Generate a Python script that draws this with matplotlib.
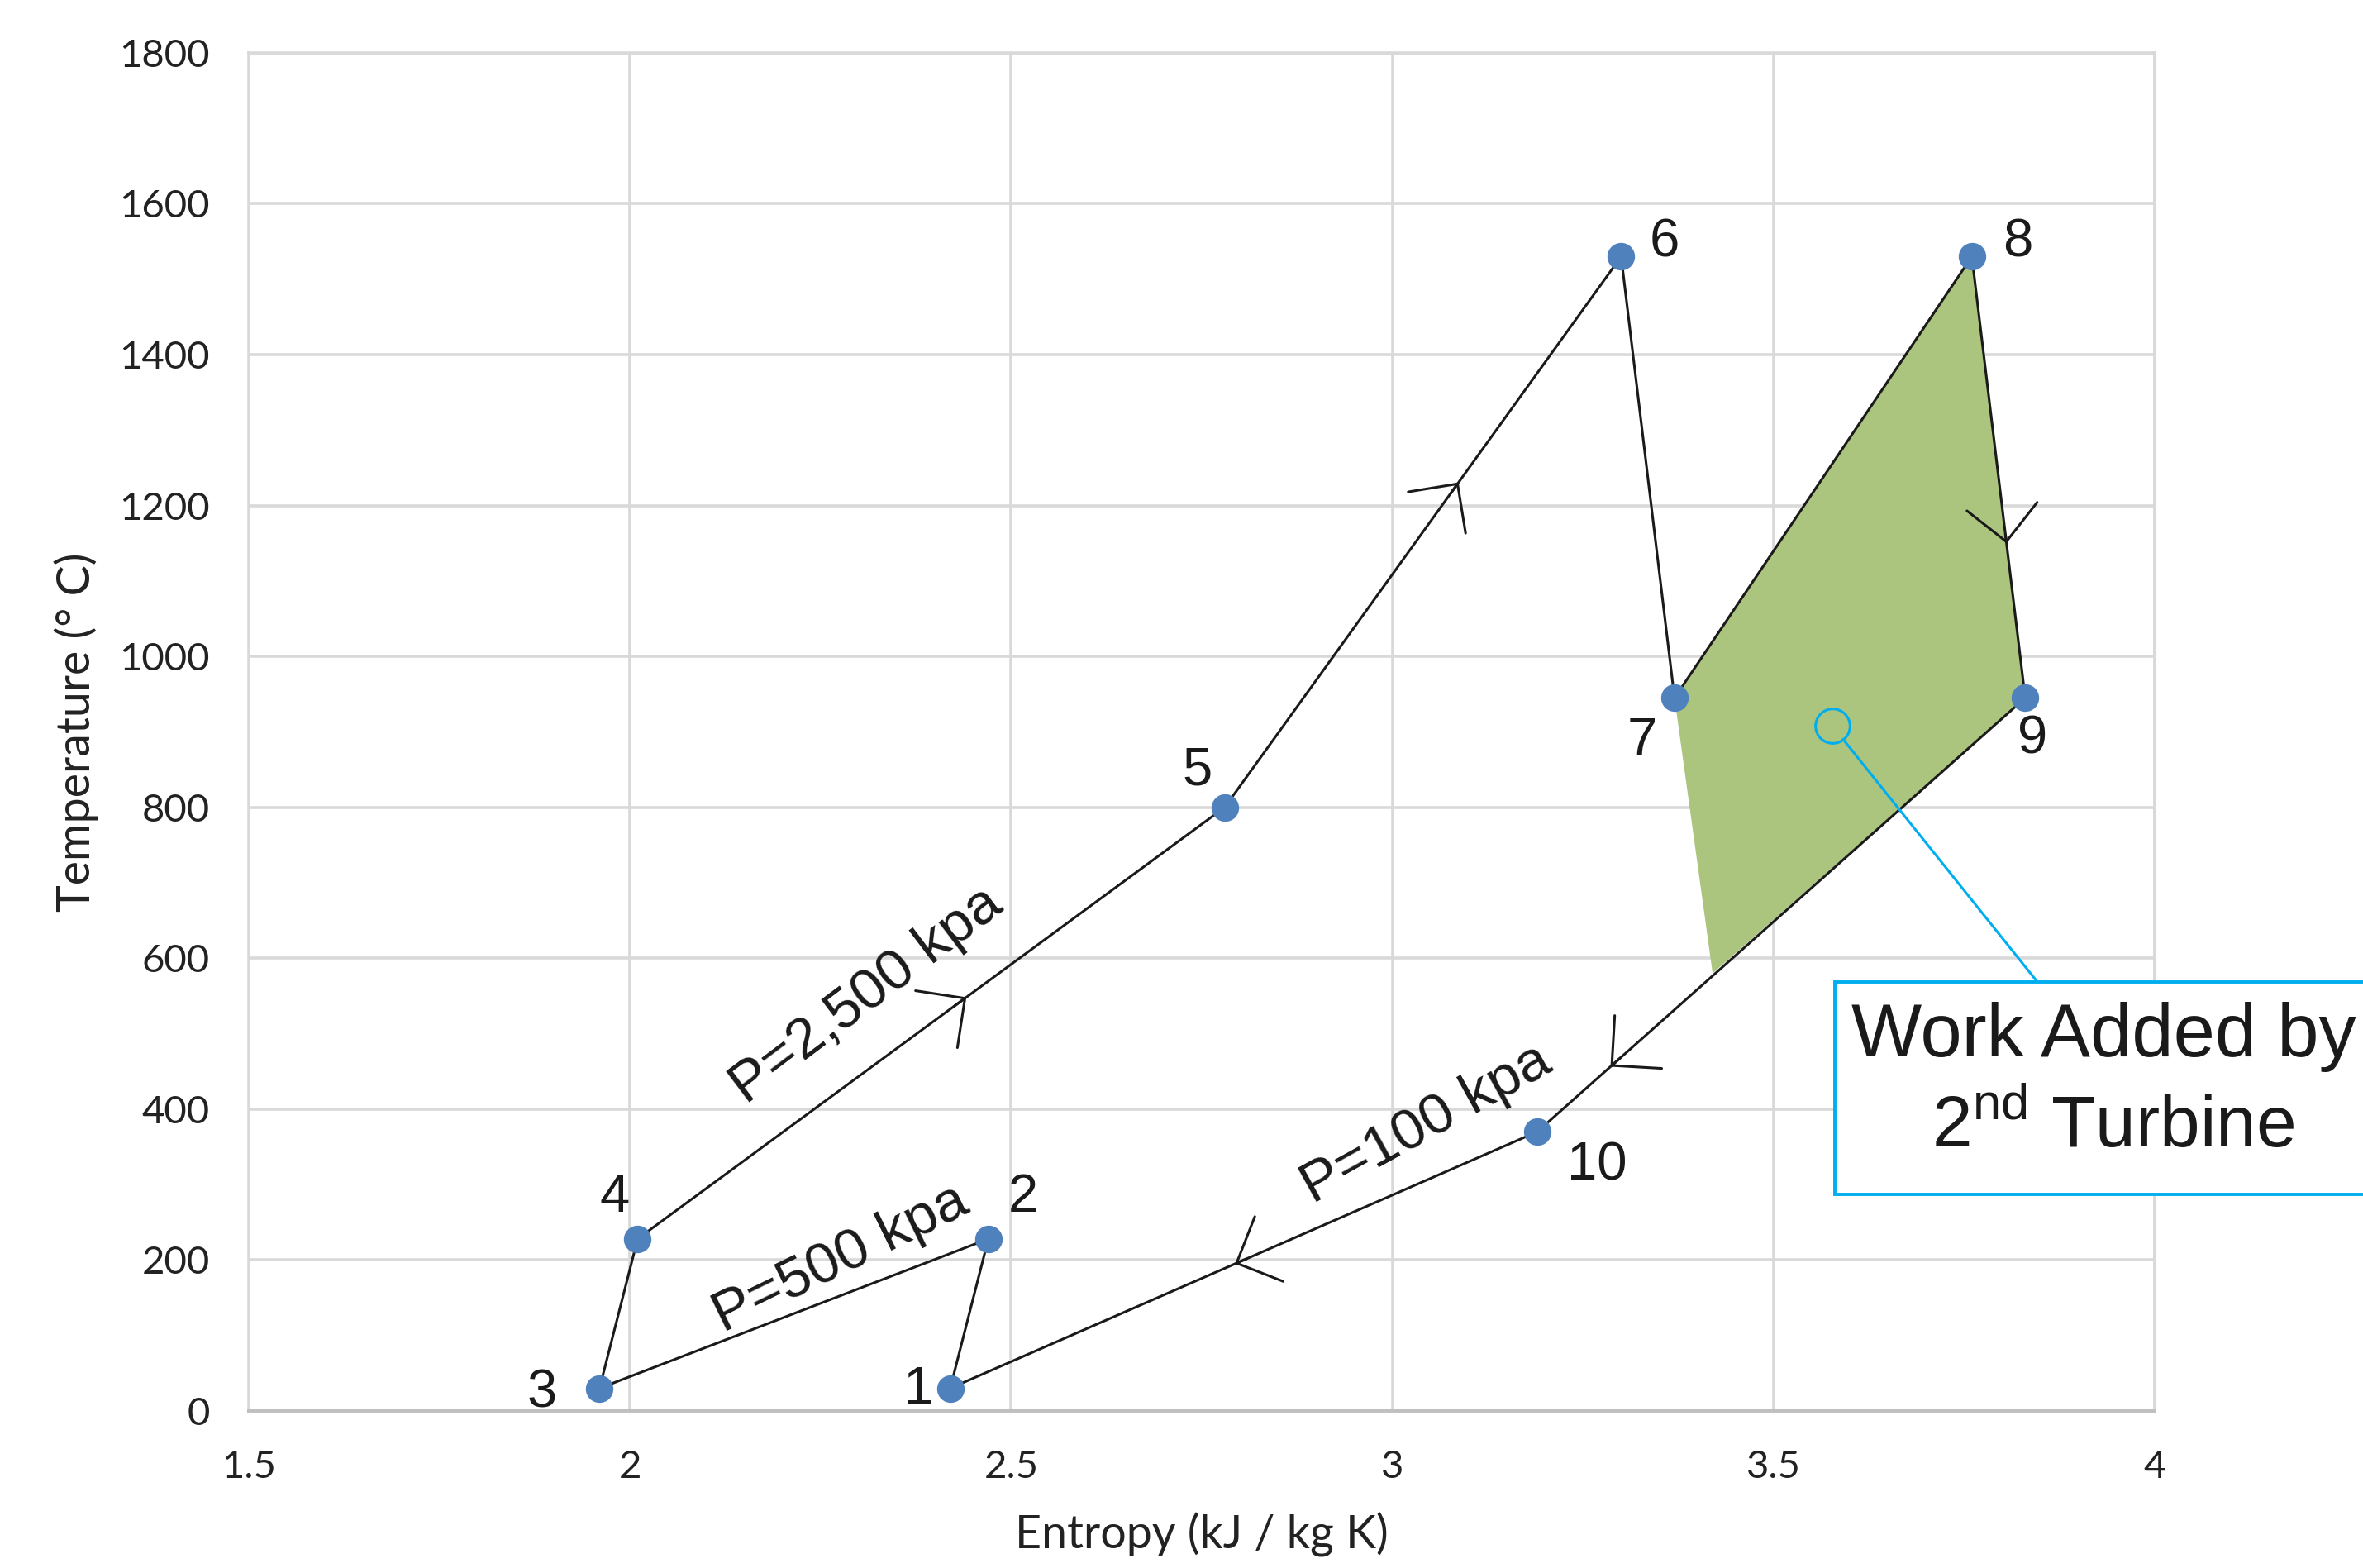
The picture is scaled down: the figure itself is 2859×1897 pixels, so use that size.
import numpy as np
import matplotlib
matplotlib.use("Agg")
import matplotlib.pyplot as plt
from matplotlib.patches import Rectangle

# state points of the cycle (entropy kJ/kg K, temperature C)
point_names = ['1', '2', '3', '4', '5', '6', '7', '8', '9', '10']
entropy = [2.42, 2.47, 1.96, 2.01, 2.78, 3.30, 3.37, 3.76, 3.83, 3.19]
temperature = [30, 228, 30, 228, 800, 1530, 945, 1530, 945, 370]

# label offsets (points) for each state number
label_dx = [-14, 15, -25, -10, -12, 19, -14, 20, 3, 26]
label_dy = [-1, 18, -2, 18, 16, 6, -19, 6, -18, -15]

# shaded area: 7 -> 8 -> 9 -> down the 9-10 line
fill_s = [3.37, 3.76, 3.83, 3.42]
fill_t = [945, 1530, 945, 580]

# direction arrows: (from index, to index, fraction along segment)
arrows = [(3, 4, 0.56), (4, 5, 0.59), (7, 8, 0.65), (8, 9, 0.85), (9, 0, 0.515)]

# pressure line labels: text, s, T, rotation
p_labels = [('P=2,500 kpa', 2.31, 551, 37),
            ('P=500 kpa', 2.277, 202, 26),
            ('P=100 kpa', 3.045, 380, 29)]

x_ticks = [1.5, 2, 2.5, 3, 3.5, 4]
x_tick_labels = ['1.5', '2', '2.5', '3', '3.5', '4']
y_ticks = [0, 200, 400, 600, 800, 1000, 1200, 1400, 1600, 1800]

callout_pt = (3.577, 908)

plt.rcParams['mathtext.fontset'] = 'custom'
plt.rcParams['mathtext.rm'] = 'Liberation Sans'

fig = plt.figure(figsize=(2859 / 200, 1897 / 200), dpi=200)
ax = fig.add_axes([0.1053, 0.1002, 0.8066, 0.8661])

grid_c = '#d9d9d9'
ax.set_xlim(1.5, 4)
ax.set_ylim(0, 1800)
ax.set_xticks(x_ticks)
ax.set_xticklabels(x_tick_labels)
ax.set_yticks(y_ticks)
ax.grid(True, color=grid_c, lw=1.3, zorder=0)
ax.set_axisbelow(True)
for side in ['left', 'top', 'right']:
    ax.spines[side].set_color(grid_c)
    ax.spines[side].set_linewidth(1.3)
ax.spines['bottom'].set_color('#bfbfbf')
ax.spines['bottom'].set_linewidth(1.4)
ax.tick_params(length=0, labelsize=17, labelcolor='#222222', pad=17)
for lab in ax.get_xticklabels() + ax.get_yticklabels():
    lab.set_family('Lato')

ax.set_xlabel('Entropy (kJ / kg K)', fontsize=20, family='Lato', labelpad=12, color='#222222')
ax.set_ylabel('Temperature (° C)', fontsize=20, family='Lato', labelpad=9, color='#222222')

# shaded work region
ax.fill(fill_s, fill_t, color='#abc47e', lw=0, zorder=1)

# cycle lines
s_loop = entropy + [entropy[0]]
t_loop = temperature + [temperature[0]]
ax.plot(s_loop, t_loop, color='#1a1a1a', lw=1.1, zorder=2)

# markers
ax.plot(entropy, temperature, 'o', color='#4f81bd', ms=12, mew=0, zorder=3)

for name, s, t, dx, dy in zip(point_names, entropy, temperature, label_dx, label_dy):
    ax.annotate(name, (s, t), xytext=(dx, dy), textcoords='offset points',
                ha='center', va='center', fontsize=23.5, family='Liberation Sans',
                color='#1a1a1a', zorder=4)

# open arrowheads along the path
for i, j, f in arrows:
    s0, t0 = entropy[i], temperature[i]
    s1, t1 = entropy[j], temperature[j]
    tip = (s0 + f * (s1 - s0), t0 + f * (t1 - t0))
    back = (s0 + (f - 0.02) * (s1 - s0), t0 + (f - 0.02) * (t1 - t0))
    ax.annotate('', xy=tip, xytext=back,
                arrowprops=dict(arrowstyle='->,head_length=0.77,head_width=0.77',
                                mutation_scale=20, color='#1a1a1a', lw=1.1,
                                shrinkA=0, shrinkB=0), zorder=3)

for txt, s, t, rot in p_labels:
    ax.text(s, t, txt, rotation=rot, rotation_mode='anchor', ha='center', va='center',
            fontsize=25, family='Liberation Sans', color='#1a1a1a', zorder=4)

# callout
cyan = '#00aeef'
ax.plot(callout_pt[0], callout_pt[1], 'o', mfc='none', mec=cyan, ms=15, mew=1.1, zorder=5)
ax.annotate('', xy=callout_pt, xytext=(0.8622, 0.3738), textcoords='figure fraction',
            arrowprops=dict(arrowstyle='-', color=cyan, lw=1.1, shrinkA=0, shrinkB=7.5),
            annotation_clip=False, zorder=5)

box = Rectangle((0.7765, 0.2383), 0.3, 0.1355, transform=fig.transFigure,
                fc='white', ec=cyan, lw=1.4, clip_on=False, zorder=6)
fig.add_artist(box)
fig.text(0.7835, 0.3263, 'Work Added by', ha='left', va='baseline', fontsize=32.5,
         family='Liberation Sans', color='#1a1a1a', zorder=7)
fig.text(0.8174, 0.2683, r'2$^{\mathrm{nd}}$ Turbine', ha='left', va='baseline', fontsize=31.5,
         family='Liberation Sans', color='#1a1a1a', zorder=7)

fig.savefig('out.png', dpi=200)
